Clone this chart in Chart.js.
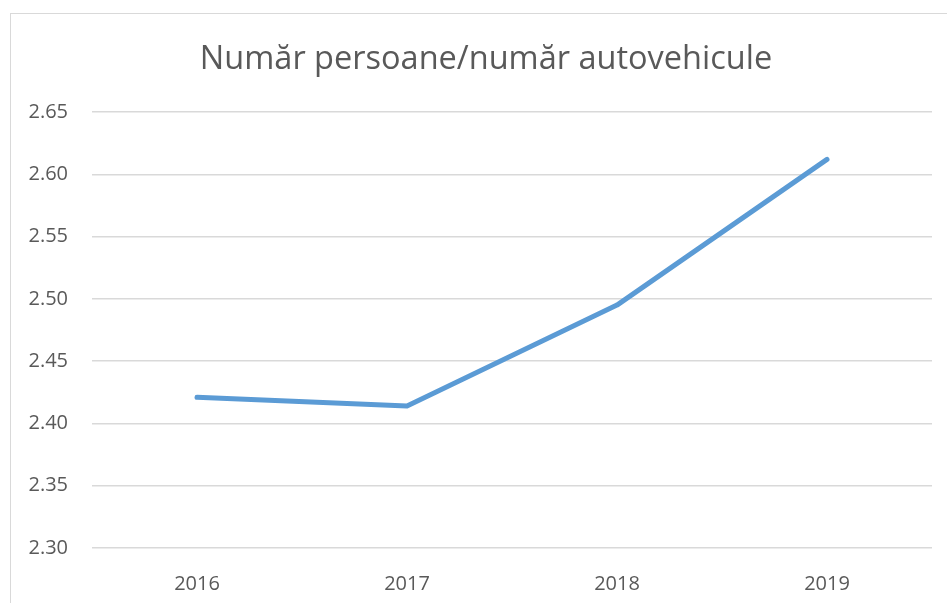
<!DOCTYPE html>
<html>
<head>
<meta charset="utf-8">
<script src="https://cdn.jsdelivr.net/npm/chart.js@4"></script>
<style>
  html, body { margin: 0; padding: 0; background: #fff; overflow: hidden; width: 947px; height: 603px; }
  #frame { position: absolute; left: 10px; top: 13px; width: 950px; height: 600px; border: 1px solid #d9d9d9; }
  #grafic { display: block; }
</style>
</head>
<body>
<div id="frame"><canvas id="grafic" width="950" height="600"></canvas></div>
<script>
// Datele graficului
const ani = ['2016', '2017', '2018', '2019'];
const persoanePeAutovehicul = [2.421, 2.414, 2.495, 2.612];
const titlu = 'Număr persoane/număr autovehicule';

const ctx = document.getElementById('grafic').getContext('2d');
new Chart(ctx, {
    type: 'line',
    data: {
        labels: ani,
        datasets: [{
            label: titlu,
            data: persoanePeAutovehicul,
            borderColor: '#5b9bd5',
            borderWidth: 5,
            borderCapStyle: 'round',
            borderJoinStyle: 'round',
            pointRadius: 0,
            tension: 0,
            fill: false
        }]
    },
    options: {
        responsive: false,
        animation: false,
        plugins: {
            legend: { display: false },
            tooltip: { enabled: false },
            title: {
                display: true,
                text: titlu,
                color: '#595959',
                font: { family: 'Open Sans', size: 32.5, weight: 'normal' },
                padding: { top: 26, bottom: 33 }
            }
        },
        scales: {
            x: {
                offset: true,
                grid: { display: false },
                border: { display: false },
                ticks: {
                    color: '#595959',
                    font: { family: 'Open Sans', size: 20 },
                    padding: 16
                },
                afterFit: function(scale) { scale.height = 66; }
            },
            y: {
                min: 2.30,
                max: 2.65,
                grid: { color: '#d9d9d9', lineWidth: 1.5, drawTicks: false },
                border: { display: false },
                ticks: {
                    stepSize: 0.05,
                    color: '#595959',
                    font: { family: 'Open Sans', size: 20 },
                    padding: 24,
                    callback: function(v) { return Number(v).toFixed(2); }
                },
                afterFit: function(scale) { scale.width = 81; }
            },
            // axa goala din dreapta, doar pentru spatiu
            dreapta: {
                position: 'right',
                grid: { display: false },
                border: { display: false },
                ticks: { display: false },
                afterFit: function(scale) { scale.width = 29; }
            }
        }
    }
});
</script>
</body>
</html>
